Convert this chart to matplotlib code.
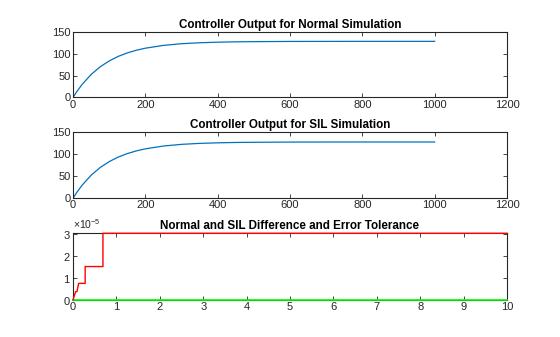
import matplotlib.pyplot as plt
from matplotlib.ticker import ScalarFormatter

# controller output (normal and SIL look identical)
t_out = [0, 10, 25, 50, 75, 100, 125, 150, 175, 200, 250, 300, 350, 400, 450, 500, 600, 700, 800, 1000]
u_normal = [0, 12.8, 29.6, 52.4, 69.9, 83.3, 93.7, 101.6, 107.7, 112.4, 118.8, 122.6, 124.8,
            126.1, 126.9, 127.3, 127.8, 127.9, 128, 128]
u_sil = [0, 12.8, 29.6, 52.4, 69.9, 83.3, 93.7, 101.6, 107.7, 112.4, 118.8, 122.6, 124.8,
         126.1, 126.9, 127.3, 127.8, 127.9, 128, 128]

# difference / tolerance
t_tol = [0, 0.06, 0.09, 0.13, 0.28, 0.28, 0.69, 0.69, 10]
tolerance = [0, 0.38e-5, 0.38e-5, 0.76e-5, 0.76e-5, 1.53e-5, 1.53e-5, 3.05e-5, 3.05e-5]
t_diff = [0, 10]
difference = [0, 0]

plt.rcParams['font.family'] = ['Liberation Sans', 'DejaVu Sans']
plt.rcParams['mathtext.fontset'] = 'custom'
plt.rcParams['mathtext.rm'] = 'Liberation Sans'
plt.rcParams['mathtext.it'] = 'Liberation Sans'

edge = '#262626'
blue = '#0072bd'

fig = plt.figure(figsize=(5.6, 3.37), dpi=100)
W, H = 560, 337


def make_axes(top, bottom):
    return fig.add_axes([73 / W, 1 - bottom / H, (507 - 73) / W, (bottom - top) / H])


def style(ax):
    for s in ax.spines.values():
        s.set_color(edge)
        s.set_linewidth(0.8)
    ax.tick_params(direction='in', length=3, width=0.6, colors=edge,
                   labelsize=8, top=True, right=True, pad=1.5)


ax1 = make_axes(31.7, 97.5)
ax1.plot(t_out, u_normal, color=blue, lw=0.9)
ax1.set_xlim(0, 1200)
ax1.set_ylim(0, 150)
ax1.set_xticks(range(0, 1201, 200))
ax1.set_yticks([0, 50, 100, 150])
ax1.set_title('Controller Output for Normal Simulation', fontsize=8.4, fontweight='bold', pad=3)
style(ax1)

ax2 = make_axes(132.3, 198.3)
ax2.plot(t_out, u_sil, color=blue, lw=0.9)
ax2.set_xlim(0, 1200)
ax2.set_ylim(0, 150)
ax2.set_xticks(range(0, 1201, 200))
ax2.set_yticks([0, 50, 100, 150])
ax2.set_title('Controller Output for SIL Simulation', fontsize=8.4, fontweight='bold', pad=3)
style(ax2)

ax3 = make_axes(233.3, 300)
ax3.plot(t_diff, difference, color='#00ff00', lw=1.2, clip_on=False, zorder=3)
ax3.plot(t_tol, tolerance, color='#ff0000', lw=1, clip_on=False, zorder=3)
ax3.set_xlim(0, 10)
ax3.set_ylim(0, 3.05e-5)
ax3.set_xticks(range(0, 11))
ax3.set_yticks([0, 1e-5, 2e-5, 3e-5])
fmt = ScalarFormatter(useMathText=True)
fmt.set_powerlimits((0, 0))
ax3.yaxis.set_major_formatter(fmt)
ax3.yaxis.get_offset_text().set_fontsize(7.5)
ax3.yaxis.get_offset_text().set_color(edge)
ax3.set_title('Normal and SIL Difference and Error Tolerance', fontsize=8.4, fontweight='bold', pad=3)
style(ax3)

fig.savefig('out.png', dpi=100)
